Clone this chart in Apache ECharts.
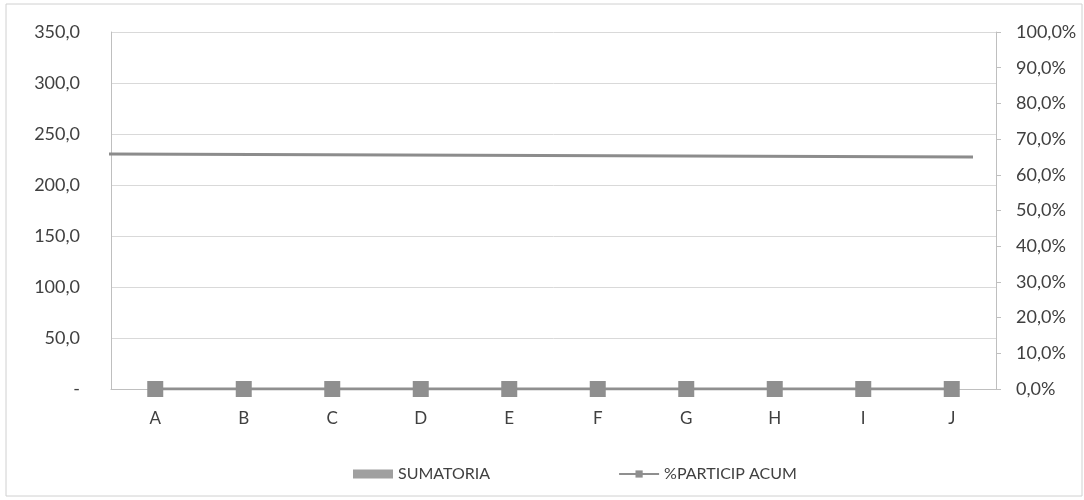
<!DOCTYPE html>
<html><head><meta charset="utf-8">
<script src="https://cdn.jsdelivr.net/npm/echarts@6/dist/echarts.min.js"></script>
<style>html,body{margin:0;padding:0;background:#fff}#c{width:1084px;height:500px}</style>
</head><body><div id="c"></div>
<script>
const categories = ['A','B','C','D','E','F','G','H','I','J'];
const sumatoria = [0,0,0,0,0,0,0,0,0,0];
const participAcum = [0,0,0,0,0,0,0,0,0,0];
// reference line seen in the chart (x in category index units, y on left axis)
const refLine = [[-0.56, 230.5], [9.24, 227.5]];

const chart = echarts.init(document.getElementById('c'));
const font = 'Lato, "Open Sans", sans-serif';
const txt = '#404040';
chart.setOption({
  animation: false,
  backgroundColor: '#fff',
  graphic: [{type:'rect', shape:{x:6,y:4,width:1076,height:492}, style:{fill:'none', stroke:'#d0d0d0', lineWidth:1}, silent:true}],
  grid: {left:111, right:88, top:32, bottom:111, containLabel:false},
  legend: {
    top: 461, left: 348, itemGap: 128, itemWidth: 40, itemHeight: 9,
    textStyle: {fontFamily: font, fontSize: 16, color: txt},
    data: [{name:'SUMATORIA', icon:'rect'}, {name:'%PARTICIP ACUM'}]
  },
  xAxis: [{
    type: 'category', data: categories,
    axisLine: {lineStyle:{color:'#bfbfbf'}}, axisTick: {show:false},
    axisLabel: {fontFamily: font, fontSize: 17, color: txt, margin: 21}
  }, {
    type: 'value', min: -0.5, max: 9.5, show: false
  }],
  yAxis: [{
    type: 'value', min: 0, max: 350, interval: 50,
    axisLine: {show:true, onZero:false, lineStyle:{color:'#bfbfbf'}}, axisTick: {show:false},
    splitLine: {lineStyle:{color:'#d9d9d9'}},
    axisLabel: {fontFamily: font, fontSize: 18, color: txt, margin: 31,
      formatter: v => v === 0 ? '-' : v.toFixed(1).replace('.', ',')}
  }, {
    type: 'value', min: 0, max: 1, interval: 0.1,
    axisLine: {show:true, onZero:false, lineStyle:{color:'#bfbfbf'}},
    axisTick: {show:true, length:5, lineStyle:{color:'#bfbfbf'}},
    splitLine: {show:false},
    axisLabel: {fontFamily: font, fontSize: 18, color: txt, margin: 20,
      formatter: v => (v*100).toFixed(1).replace('.', ',') + '%'}
  }],
  series: [{
    name: 'SUMATORIA', type: 'bar', data: sumatoria, itemStyle: {color:'#a0a0a0'}, barWidth: '50%'
  }, {
    name: 'ref', type: 'line', xAxisIndex: 1, yAxisIndex: 0, data: refLine, clip: false,
    showSymbol: false, symbol: 'none', lineStyle: {color:'#8c8c8c', width:3}, z: 3
  }, {
    name: '%PARTICIP ACUM', type: 'line', yAxisIndex: 1, data: participAcum,
    symbol: 'rect', symbolSize: 16, itemStyle: {color:'#8f8f8f'},
    lineStyle: {color:'#8f8f8f', width:3}, z: 4
  }]
});
</script></body></html>
